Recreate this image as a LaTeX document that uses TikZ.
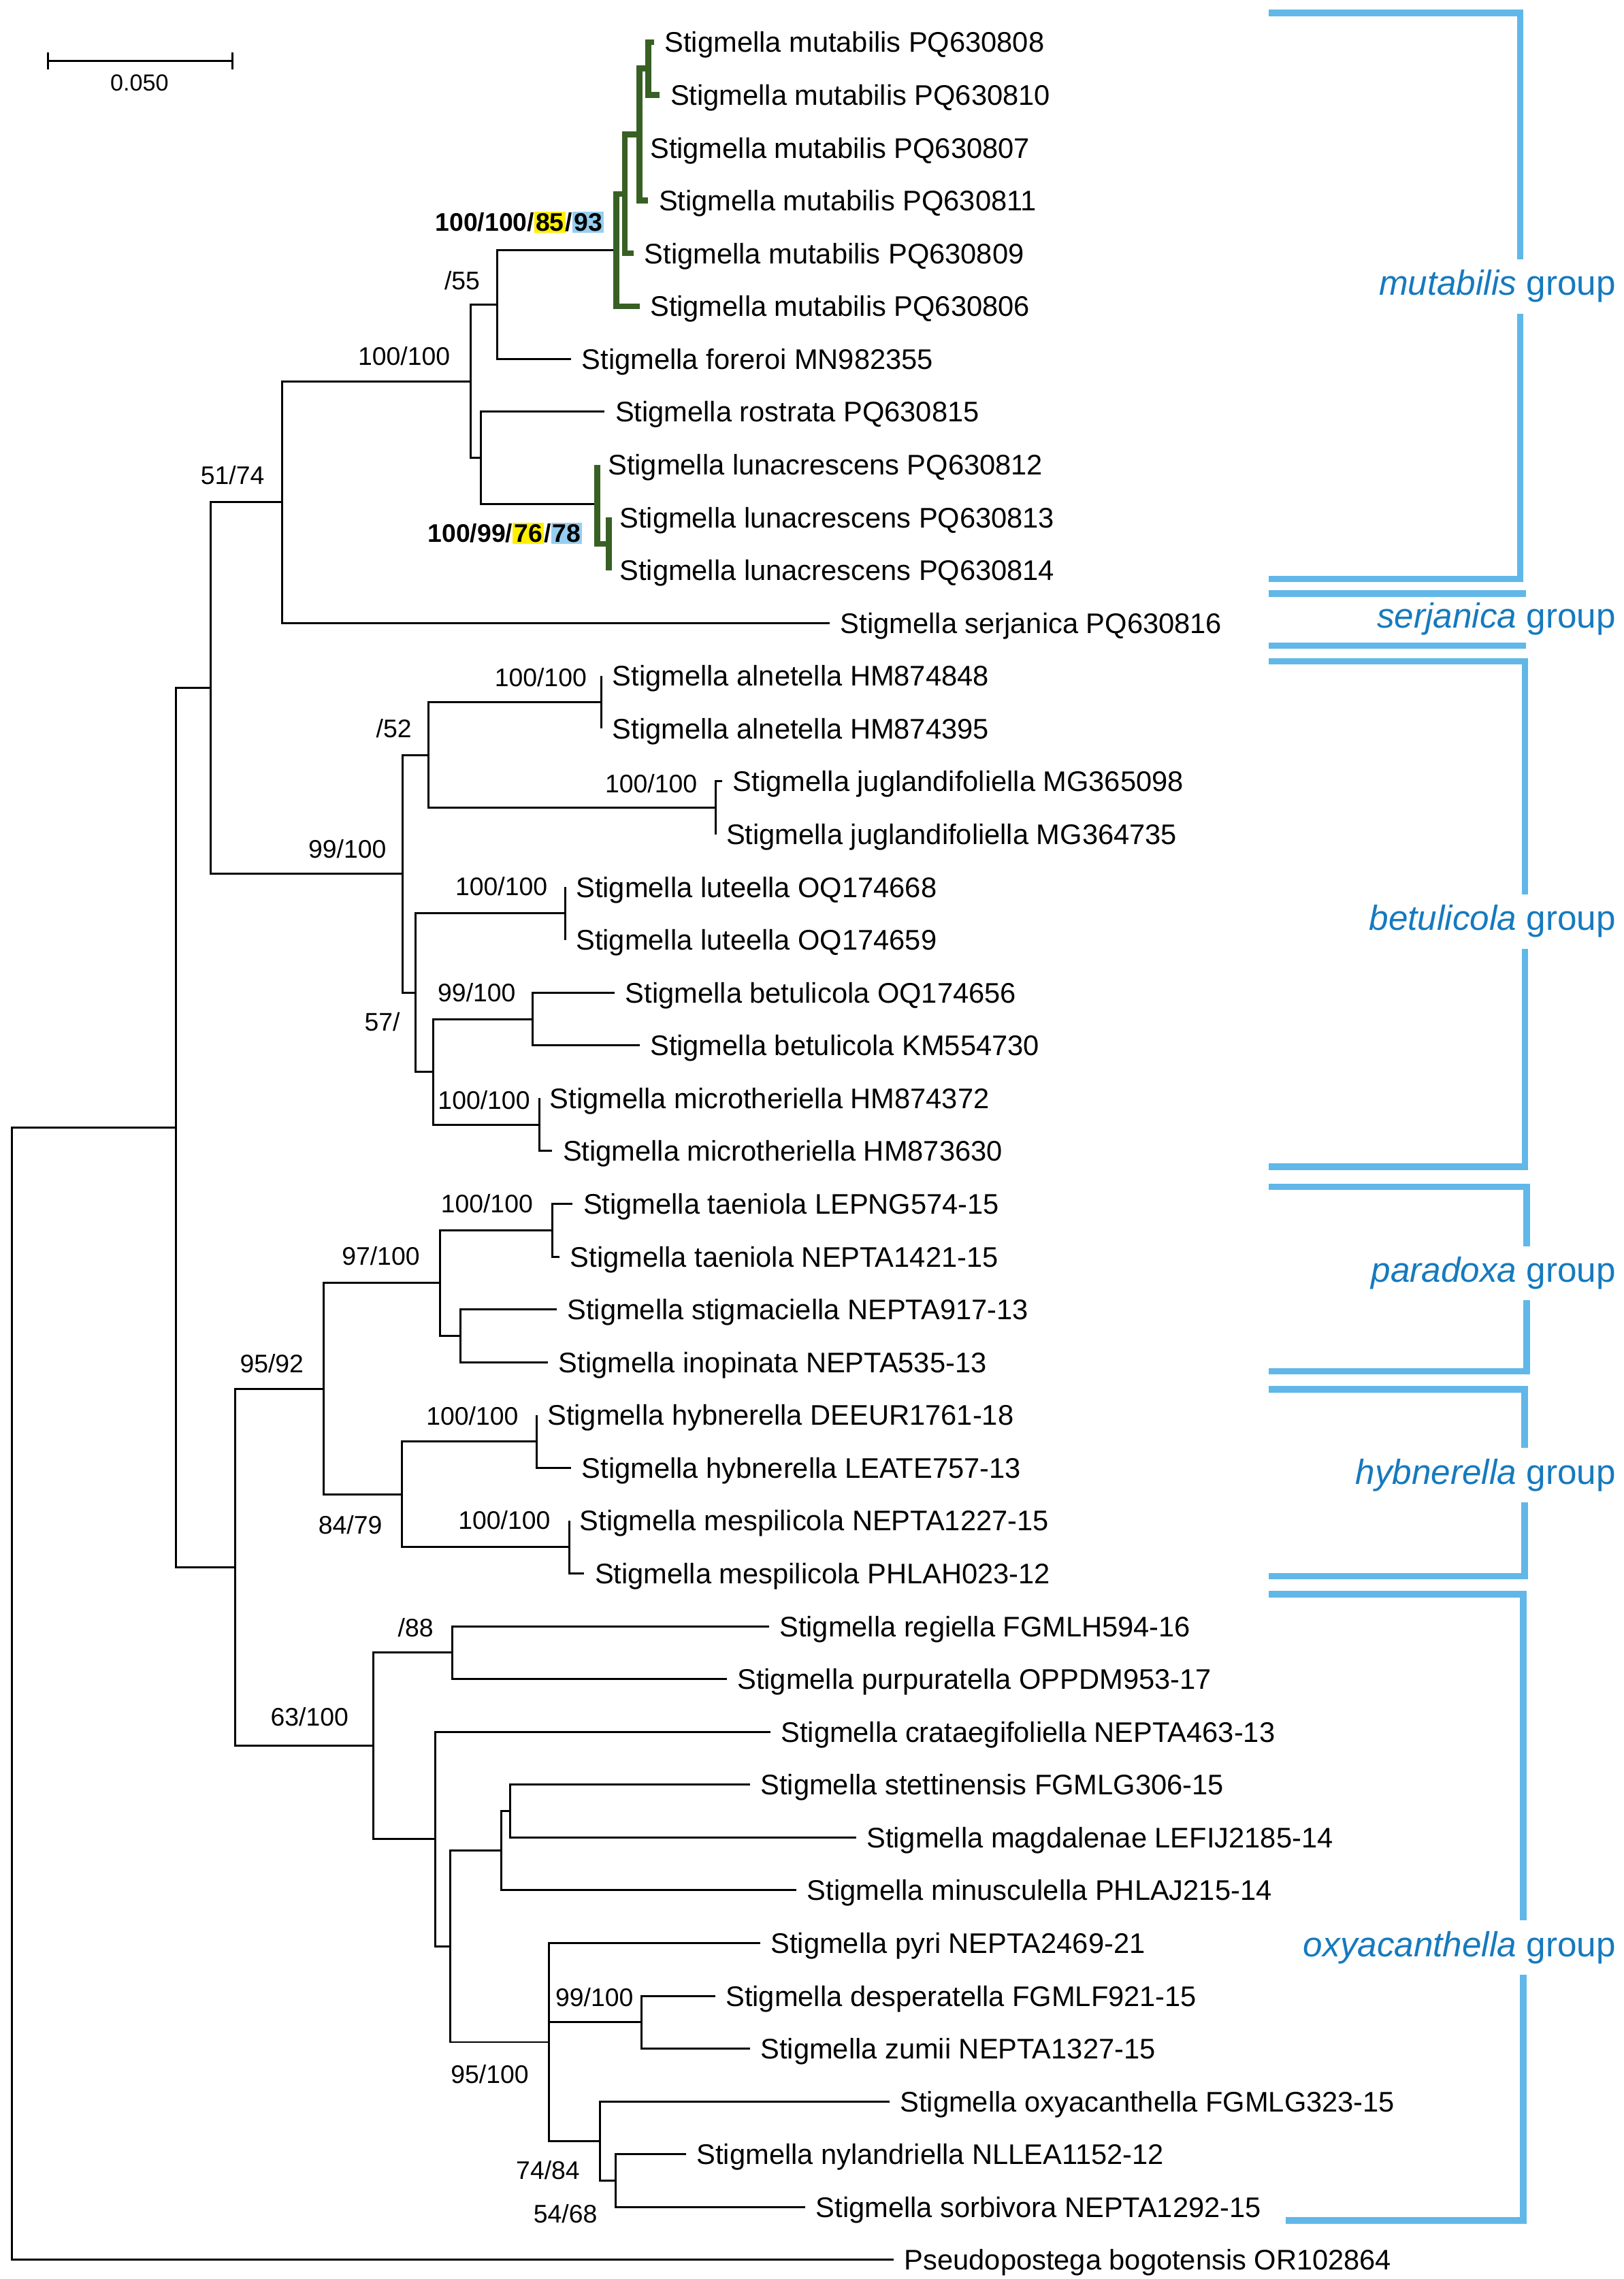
\documentclass[tikz,border=0pt]{standalone}
\usepackage{fontspec}
\setmainfont{Liberation Sans}
\setlength{\fboxsep}{1pt}
\definecolor{cladegreen}{RGB}{56,96,36}
\definecolor{grpblue}{RGB}{96,183,232}
\definecolor{grptxt}{RGB}{22,122,190}
\definecolor{hlyel}{RGB}{255,240,0}
\definecolor{hlblue}{RGB}{150,206,240}
\tikzset{
	brline/.style={line width=1.4pt, black},
	grline/.style={line width=4pt, cladegreen},
	grpline/.style={line width=4.5pt, grpblue},
	leaf/.style={anchor=west, inner xsep=7pt, inner ysep=0pt, text height=18pt, text depth=4pt, font=\fontsize{19.5}{22}\selectfont},
	boot/.style={inner sep=0pt, font=\fontsize{17.5}{20}\selectfont},
	grptext/.style={anchor=east, inner xsep=2pt, inner ysep=7.5pt, text=grptxt, font=\fontsize{24}{28}\selectfont},
	grpgap/.style={grptext, fill=white}}
\tikzset{every picture/.style={line width=0.75pt}}

\begin{document}
\begin{tikzpicture}[x=1pt,y=1pt,yscale=-1]
	\useasboundingbox (0,0) rectangle (1117,1568);

	%Scale bar
	\coordinate (sbL) at (33,42);
	\coordinate (sbR) at (160,42);
	\draw[brline] (sbL) -- (sbR);
	\draw[brline] ([yshift=6pt]sbL) -- ([yshift=-6pt]sbL);
	\draw[brline] ([yshift=6pt]sbR) -- ([yshift=-6pt]sbR);
	\node[boot, font=\fontsize{16}{18}\selectfont] (sbT) at (96,57) {0.050};

	%Leaves
	\node[leaf] (l1) at (450,29.00) {Stigmella mutabilis PQ630808};
	\node[leaf] (l2) at (454,65.33) {Stigmella mutabilis PQ630810};
	\node[leaf] (l3) at (440,101.66) {Stigmella mutabilis PQ630807};
	\node[leaf] (l4) at (446,137.99) {Stigmella mutabilis PQ630811};
	\node[leaf] (l5) at (436,174.32) {Stigmella mutabilis PQ630809};
	\node[leaf] (l6) at (440,210.65) {Stigmella mutabilis PQ630806};
	\node[leaf] (l7) at (393,246.98) {Stigmella foreroi MN982355};
	\node[leaf] (l8) at (416,283.31) {Stigmella rostrata PQ630815};
	\node[leaf] (l9) at (411,319.64) {Stigmella lunacrescens PQ630812};
	\node[leaf] (l10) at (419,355.97) {Stigmella lunacrescens PQ630813};
	\node[leaf] (l11) at (419,392.30) {Stigmella lunacrescens PQ630814};
	\node[leaf] (l12) at (571,428.63) {Stigmella serjanica PQ630816};
	\node[leaf] (l13) at (414,464.96) {Stigmella alnetella HM874848};
	\node[leaf] (l14) at (414,501.29) {Stigmella alnetella HM874395};
	\node[leaf] (l15) at (497,537.62) {Stigmella juglandifoliella MG365098};
	\node[leaf] (l16) at (492.4,573.95) {Stigmella juglandifoliella MG364735};
	\node[leaf] (l17) at (389,610.28) {Stigmella luteella OQ174668};
	\node[leaf] (l18) at (389,646.61) {Stigmella luteella OQ174659};
	\node[leaf] (l19) at (423,682.94) {Stigmella betulicola OQ174656};
	\node[leaf] (l20) at (440,719.27) {Stigmella betulicola KM554730};
	\node[leaf] (l21) at (371,755.60) {Stigmella microtheriella HM874372};
	\node[leaf] (l22) at (380,791.93) {Stigmella microtheriella HM873630};
	\node[leaf] (l23) at (394,828.26) {Stigmella taeniola LEPNG574-15};
	\node[leaf] (l24) at (385,864.59) {Stigmella taeniola NEPTA1421-15};
	\node[leaf] (l25) at (383,900.92) {Stigmella stigmaciella NEPTA917-13};
	\node[leaf] (l26) at (377,937.25) {Stigmella inopinata NEPTA535-13};
	\node[leaf] (l27) at (369.3,973.58) {Stigmella hybnerella DEEUR1761-18};
	\node[leaf] (l28) at (393,1009.91) {Stigmella hybnerella LEATE757-13};
	\node[leaf] (l29) at (391.6,1046.24) {Stigmella mespilicola NEPTA1227-15};
	\node[leaf] (l30) at (402,1082.57) {Stigmella mespilicola PHLAH023-12};
	\node[leaf] (l31) at (529,1118.90) {Stigmella regiella FGMLH594-16};
	\node[leaf] (l32) at (500,1155.23) {Stigmella purpuratella OPPDM953-17};
	\node[leaf] (l33) at (530,1191.56) {Stigmella crataegifoliella NEPTA463-13};
	\node[leaf] (l34) at (516,1227.89) {Stigmella stettinensis FGMLG306-15};
	\node[leaf] (l35) at (589,1264.22) {Stigmella magdalenae LEFIJ2185-14};
	\node[leaf] (l36) at (548,1300.55) {Stigmella minusculella PHLAJ215-14};
	\node[leaf] (l37) at (523,1336.88) {Stigmella pyri NEPTA2469-21};
	\node[leaf] (l38) at (492,1373.21) {Stigmella desperatella FGMLF921-15};
	\node[leaf] (l39) at (516,1409.54) {Stigmella zumii NEPTA1327-15};
	\node[leaf] (l40) at (612,1445.87) {Stigmella oxyacanthella FGMLG323-15};
	\node[leaf] (l41) at (472,1482.20) {Stigmella nylandriella NLLEA1152-12};
	\node[leaf] (l42) at (554,1518.53) {Stigmella sorbivora NEPTA1292-15};
	\node[leaf] (l43) at (615,1554.86) {Pseudopostega bogotensis OR102864};

	%Internal nodes
	\coordinate (R0) at (8,1165.35);
	\coordinate (ING) at (121,775.83);
	\coordinate (B) at (145,473.34);
	\coordinate (D) at (194,345.47);
	\coordinate (E) at (324,262.31);
	\coordinate (G) at (342,209.52);
	\coordinate (M1) at (424,172.05);
	\coordinate (M2) at (430,133.45);
	\coordinate (M3) at (440,92.58);
	\coordinate (M4) at (446,47.17);
	\coordinate (H) at (331,315.10);
	\coordinate (L1) at (411,346.89);
	\coordinate (L2) at (419,374.14);
	\coordinate (F) at (277,601.21);
	\coordinate (P) at (295,519.46);
	\coordinate (AL) at (414,483.13);
	\coordinate (JU) at (492.4,555.79);
	\coordinate (Q) at (286,682.95);
	\coordinate (LU) at (389,628.45);
	\coordinate (R) at (298,737.44);
	\coordinate (BE) at (366.5,701.11);
	\coordinate (MI) at (371,773.77);
	\coordinate (C) at (161.7,1078.32);
	\coordinate (S) at (222.5,955.42);
	\coordinate (T) at (303,882.76);
	\coordinate (TA) at (380,846.43);
	\coordinate (V) at (317,919.09);
	\coordinate (U) at (276.7,1028.08);
	\coordinate (HY) at (369.3,991.75);
	\coordinate (ME) at (391.6,1064.41);
	\coordinate (W) at (256.7,1201.22);
	\coordinate (X) at (311.4,1137.07);
	\coordinate (Y) at (299.3,1265.36);
	\coordinate (Z) at (310,1339.16);
	\coordinate (AA) at (345,1273.31);
	\coordinate (AB) at (350.8,1246.06);
	\coordinate (BB) at (377.6,1405.00);
	\coordinate (CC) at (441.2,1391.38);
	\coordinate (DD) at (413,1473.12);
	\coordinate (EE) at (423.8,1500.37);

	%Branches
	\draw[brline] (R0) |- (ING) (R0) |- (l43.west);
	\draw[brline] (ING) |- (B) (ING) |- (C);
	\draw[brline] (B) |- (D) (B) |- (F);
	\draw[brline] (D) |- (E) (D) |- (l12.west);
	\draw[brline] (E) |- (G) (E) |- (H);
	\draw[brline] (G) |- (M1) (G) |- (l7.west);
	\draw[brline] (H) |- (l8.west) (H) |- (L1);
	\draw[grline] (M1) |- (M2) (M1) |- (l6.west);
	\draw[grline] (M2) |- (M3) (M2) |- (l5.west);
	\draw[grline] (M3) |- (M4) (M3) |- (l3.west) (M3) |- (l4.west);
	\draw[grline] (M4) |- (l1.west) (M4) |- (l2.west);
	\draw[grline] (L1) |- (l9.west) (L1) |- (L2);
	\draw[grline] (L2) |- (l10.west) (L2) |- (l11.west);
	\draw[brline] (F) |- (P) (F) |- (Q);
	\draw[brline] (P) |- (AL) (P) |- (JU);
	\draw[brline] (AL) |- (l13.west) (AL) |- (l14.west);
	\draw[brline] (JU) |- (l15.west) (JU) |- (l16.west);
	\draw[brline] (Q) |- (LU) (Q) |- (R);
	\draw[brline] (LU) |- (l17.west) (LU) |- (l18.west);
	\draw[brline] (R) |- (BE) (R) |- (MI);
	\draw[brline] (BE) |- (l19.west) (BE) |- (l20.west);
	\draw[brline] (MI) |- (l21.west) (MI) |- (l22.west);
	\draw[brline] (C) |- (S) (C) |- (W);
	\draw[brline] (S) |- (T) (S) |- (U);
	\draw[brline] (T) |- (TA) (T) |- (V);
	\draw[brline] (TA) |- (l23.west) (TA) |- (l24.west);
	\draw[brline] (V) |- (l25.west) (V) |- (l26.west);
	\draw[brline] (U) |- (HY) (U) |- (ME);
	\draw[brline] (HY) |- (l27.west) (HY) |- (l28.west);
	\draw[brline] (ME) |- (l29.west) (ME) |- (l30.west);
	\draw[brline] (W) |- (X) (W) |- (Y);
	\draw[brline] (X) |- (l31.west) (X) |- (l32.west);
	\draw[brline] (Y) |- (l33.west) (Y) |- (Z);
	\draw[brline] (Z) |- (AA) (Z) |- (BB);
	\draw[brline] (AA) |- (AB) (AA) |- (l36.west);
	\draw[brline] (AB) |- (l34.west) (AB) |- (l35.west);
	\draw[brline] (BB) |- (l37.west) (BB) |- (CC) (BB) |- (DD);
	\draw[brline] (CC) |- (l38.west) (CC) |- (l39.west);
	\draw[brline] (DD) |- (l40.west) (DD) |- (EE);
	\draw[brline] (EE) |- (l41.west) (EE) |- (l42.west);

	% Text Node
	\node[boot, font=\fontsize{17.5}{20}\selectfont\bfseries] (bsM) at (357.5,153) {100/100/\colorbox{hlyel}{85}/\colorbox{hlblue}{93}};
	\node[boot] (bsG) at (318,193) {/55};
	\node[boot] (bsE) at (278,245) {100/100};
	\node[boot] (bsD) at (160,327) {51/74};
	\node[boot, font=\fontsize{17.5}{20}\selectfont\bfseries] (bsL) at (347.5,367) {100/99/\colorbox{hlyel}{76}/\colorbox{hlblue}{78}};
	\node[boot] (bsAL) at (372,466) {100/100};
	\node[boot] (bsP) at (271,501) {/52};
	\node[boot] (bsJU) at (448,539) {100/100};
	\node[boot] (bsF) at (239,584) {99/100};
	\node[boot] (bsLU) at (345,610) {100/100};
	\node[boot] (bsBE) at (328,683) {99/100};
	\node[boot] (bsQ) at (263,703) {57/};
	\node[boot] (bsMI) at (333,757) {100/100};
	\node[boot] (bsTA) at (335,828) {100/100};
	\node[boot] (bsT) at (262,864) {97/100};
	\node[boot] (bsS) at (187,938) {95/92};
	\node[boot] (bsHY) at (325,974) {100/100};
	\node[boot] (bsU) at (241,1049) {84/79};
	\node[boot] (bsME) at (347,1046) {100/100};
	\node[boot] (bsX) at (286,1120) {/88};
	\node[boot] (bsW) at (213,1181) {63/100};
	\node[boot] (bsCC) at (409,1374) {99/100};
	\node[boot] (bsBB) at (337,1427) {95/100};
	\node[boot] (bsDD) at (377,1493) {74/84};
	\node[boot] (bsEE) at (389,1523) {54/68};

	%Group brackets
	\draw[grpline] (873,9) -- (1046,9) -- (1046,398.3) -- (873,398.3);
	\draw[grpline] (873,408.4) -- (1050,408.4);
	\draw[grpline] (873,444.2) -- (1050,444.2);
	\draw[grpline] (873,455) -- (1049.3,455) -- (1049.3,802.8) -- (873,802.8);
	\draw[grpline] (873,816.5) -- (1050.4,816.5) -- (1050.4,943.5) -- (873,943.5);
	\draw[grpline] (873,955.9) -- (1049.2,955.9) -- (1049.2,1084.5) -- (873,1084.5);
	\draw[grpline] (873,1096.8) -- (1048,1096.8) -- (1048,1527.7) -- (884.6,1527.7);

	% Text Node
	\node[grpgap] (gMut) at (1114,197) {\textit{mutabilis} group};
	\node[grptext] (gSer) at (1114,426) {\textit{serjanica} group};
	\node[grpgap] (gBet) at (1114,634) {\textit{betulicola} group};
	\node[grpgap] (gPar) at (1114,876) {\textit{paradoxa} group};
	\node[grpgap] (gHyb) at (1114,1015) {\textit{hybnerella} group};
	\node[grpgap] (gOxy) at (1114,1340) {\textit{oxyacanthella} group};

\end{tikzpicture}
\end{document}
